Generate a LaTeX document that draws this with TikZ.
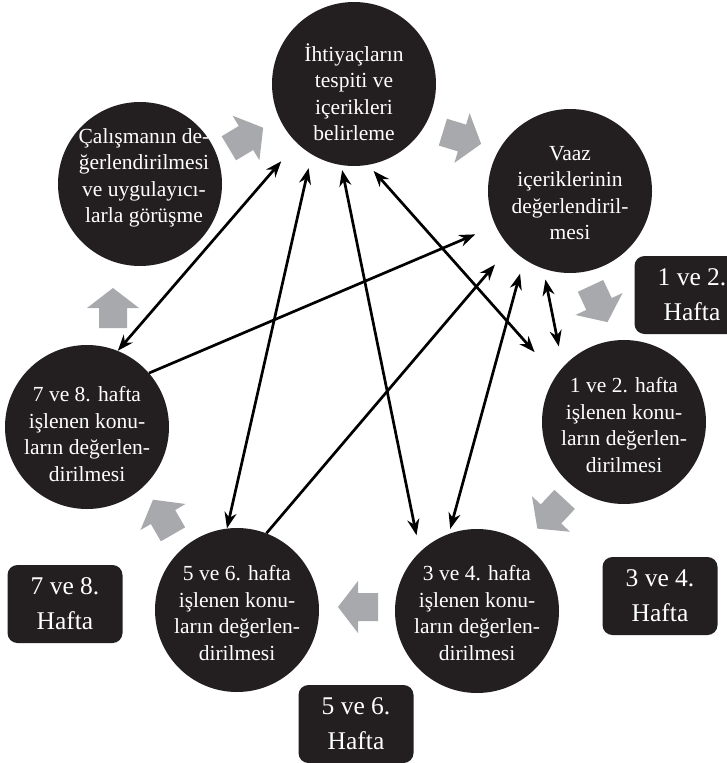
\documentclass[tikz,border=0pt]{standalone}
\usepackage{fontspec}
\setmainfont{Liberation Serif}
\usetikzlibrary{arrows.meta}
\definecolor{ink}{HTML}{231F20}
\definecolor{blockgray}{HTML}{A7A9AC}
\newcommand\blockarrow[3]{%
  \fill[blockgray, shift={(#1,#2)}, rotate=#3]
    (-20,-14) -- (0,-14) -- (0,-26) -- (20,0) -- (0,26) -- (0,14) -- (-20,14) -- cycle;}
\begin{document}
\begin{tikzpicture}[x=1pt,y=-1pt,
  circ/.style={circle, fill=ink, minimum size=164pt, inner sep=0pt},
  ctext/.style={text=white, align=center, inner sep=0pt, font=\fontsize{21.5}{26.5}\selectfont},
  wbox/.style={fill=ink, rounded corners=10pt, minimum width=115pt, minimum height=78pt,
    inner sep=0pt, text=white, align=center, font=\fontsize{25.5}{35}\selectfont},
  conn/.style={line width=2.7pt, {Stealth[length=16pt,width=12pt]}-{Stealth[length=16pt,width=12pt]}},
  conn1/.style={line width=2.7pt, -{Stealth[length=16pt,width=12pt]}},
]
\useasboundingbox (0,0) rectangle (726,763);
\fill[white] (0,0) rectangle (726,763);

% block arrows
\blockarrow{246}{138}{31}
\blockarrow{462}{138}{-17}
\blockarrow{599}{304}{-65}
\blockarrow{551}{514}{227}
\blockarrow{358}{607}{180}
\blockarrow{163}{517}{120}
\blockarrow{113}{308}{90}

% circles
\node[circ] (T) at (354,84) {};
\node[circ] (C) at (140,184) {};
\node[circ] (V) at (570,191) {};
\node[circ] (O) at (624,422) {};
\node[circ] (H) at (477,611) {};
\node[circ] (F) at (237,610) {};
\node[circ] (S) at (87,427) {};

\node[ctext] (Tt) at (354,92) {İhtiyaçların\\tespiti ve\\içerikleri\\belirleme};
\node[ctext] (Ct) at (144,178) {Çalışmanın de-\\ğerlendirilmesi\\ve uygulayıcı-\\larla görüşme};
\node[ctext] (Vt) at (570,193) {Vaaz\\içeriklerinin\\değerlendiril-\\mesi};
\node[ctext] (Ot) at (624,425) {1 ve 2. hafta\\işlenen konu-\\ların değerlen-\\dirilmesi};
\node[ctext] (Ht) at (477,613) {3 ve 4. hafta\\işlenen konu-\\ların değerlen-\\dirilmesi};
\node[ctext] (Ft) at (237,613) {5 ve 6. hafta\\işlenen konu-\\ların değerlen-\\dirilmesi};
\node[ctext] (St) at (87,434) {7 ve 8. hafta\\işlenen konu-\\ların değerlen-\\dirilmesi};

% week boxes
\node[wbox] (B12) at (692,295) {1 ve 2.\\Hafta};
\node[wbox] (B34) at (660,596) {3 ve 4.\\Hafta};
\node[wbox] (B56) at (356,724) {5 ve 6.\\Hafta};
\node[wbox] (B78) at (65,604) {7 ve 8.\\Hafta};

% connectors
\draw[conn, shorten >=24pt] (S.68) -- (T.226);
\draw[conn, shorten >=14pt] (F.97) -- (T.239);
\draw[conn, shorten <=17pt, shorten >=5pt] (H.134) -- (T.261);
\draw[conn, shorten <=32pt, shorten >=8pt] (O.146) -- (T.280);
\draw[conn1, shorten >=22pt] (S.41) -- (V.205);
\draw[conn1, shorten >=23pt] (F.69) -- (V.223);
\draw[conn, shorten <=5pt, shorten >=15pt] (H.110) -- (V.236);
\draw[conn, shorten <=11pt, shorten >=21pt] (V.251) -- (O.138);
\end{tikzpicture}
\end{document}
